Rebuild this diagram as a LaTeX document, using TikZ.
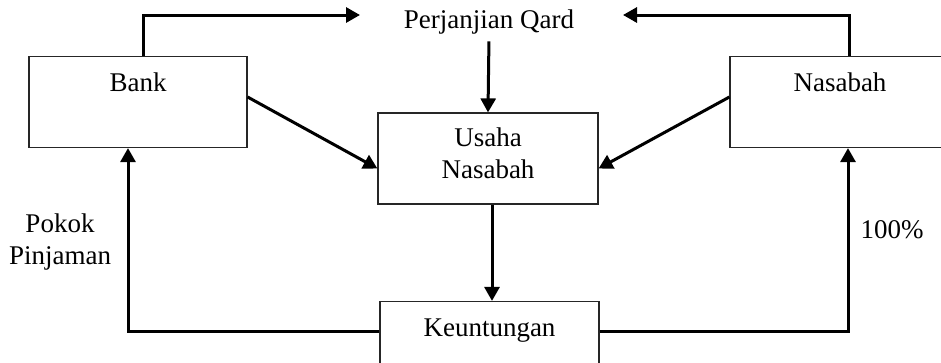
\documentclass[tikz,border=0pt]{standalone}
\usepackage{fontspec}
\setmainfont{Liberation Serif}
\usetikzlibrary{arrows.meta,positioning,calc}

\begin{document}
\begin{tikzpicture}[x=1pt, y=-1pt,
  box/.style={draw=black!85, line width=1.2pt, minimum width=218pt,
              minimum height=91pt, inner sep=0pt},
  lbl/.style={font=\fontsize{27}{32}\selectfont, align=center, inner sep=2pt},
  arr/.style={-{Triangle[length=14pt,width=15pt]}, line width=3pt}
]
  \useasboundingbox (0,0) rectangle (941,362);

  \node[box] (bank) at (138,102) {};
  \node[lbl] (banktxt) at (138,82) {Bank};
  \node[box, minimum width=220pt] (nasabah) at (840,102) {};
  \node[lbl] (nasabahtxt) at (840,82) {Nasabah};
  \node[box, minimum width=220pt] (usaha) at (488,158.5) {};
  \node[lbl] (usahatxt) at (488,153) {Usaha\\Nasabah};
  \node[box, minimum width=219pt] (keu) at (489.5,347) {};
  \node[lbl] (keutxt) at (489.5,331) {Keuntungan};

  \node[lbl] (qard) at (489,22) {Perjanjian Qard};
  \node[lbl] (pokok) at (60,242) {Pokok\\Pinjaman};
  \node[lbl] (persen) at (892,230) {100\%};

  \coordinate (qardL) at (360,15);
  \coordinate (qardR) at (623,15);

  \draw[arr] ($(bank.north)+(5,0)$) |- (qardL);
  \draw[arr] ($(nasabah.north)+(9,0)$) |- (qardR);
  \draw[arr, shorten <=5pt] (qard.south) -- (usaha.north);
  \draw[arr] ($(bank.east)+(0,-5)$) -- ($(usaha.west)+(0,10)$);
  \draw[arr] ($(nasabah.west)+(0,-5)$) -- ($(usaha.east)+(0,10)$);
  \draw[arr] ($(usaha.south)+(4,0)$) -- ($(keu.north)+(2.5,0)$);
  \draw[arr] ($(keu.west)+(0,-16)$) -| ($(bank.south)+(-10,0)$);
  \draw[arr] ($(keu.east)+(0,-16)$) -| ($(nasabah.south)+(8,0)$);

\end{tikzpicture}
\end{document}
